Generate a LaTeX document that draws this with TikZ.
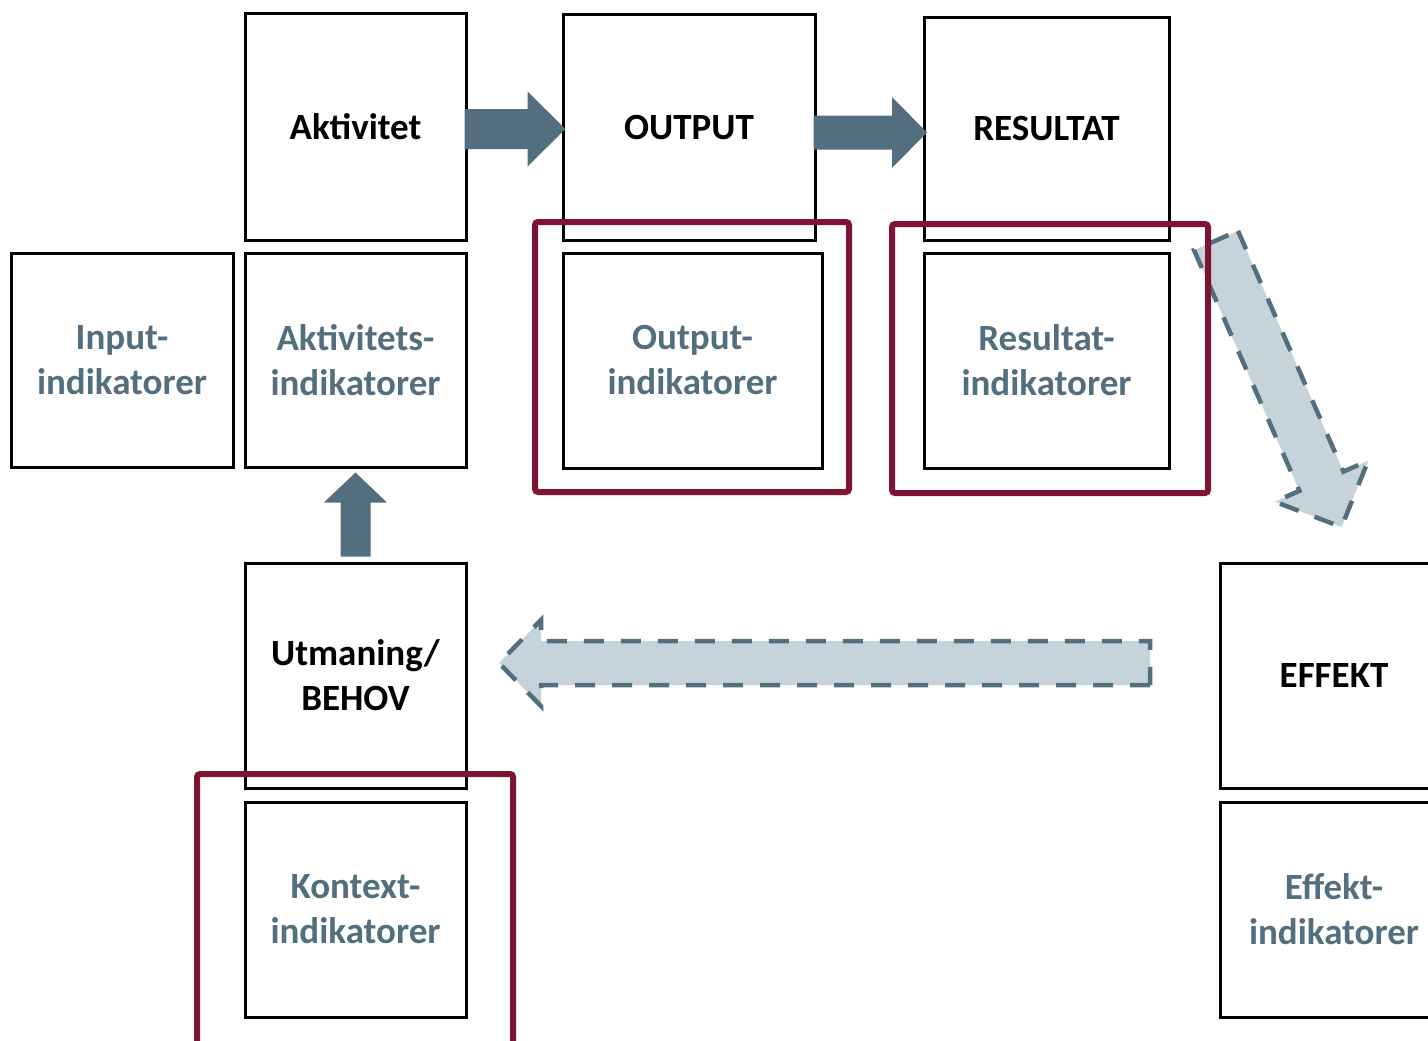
\documentclass[tikz,border=0pt]{standalone}
\usepackage{fontspec}
\setmainfont{Carlito}
\usepackage{xcolor}
\usetikzlibrary{calc,positioning}
\definecolor{slate}{HTML}{536E7E}
\definecolor{paleslate}{HTML}{C6D3DB}
\definecolor{wine}{HTML}{7E1432}
\tikzset{font={\fontsize{37pt}{45pt}\selectfont\bfseries}}

% block arrow: [style]{from}{to}{shaft half width}{head half width}{head length}
\newcommand\blockarrow[6][]{%
  \coordinate (ba-h) at ($(#3)!#6!(#2)$);
  \draw[#1] ($(#2)!#4!90:(#3)$) -- ($(ba-h)!#4!90:(#3)$) -- ($(ba-h)!#5!90:(#3)$)
    -- (#3) -- ($(ba-h)!#5!-90:(#3)$) -- ($(ba-h)!#4!-90:(#3)$)
    -- ($(#2)!#4!-90:(#3)$) -- cycle;}

\begin{document}
\begin{tikzpicture}[x=1pt,y=-1pt,
    box/.style={draw,line width=3pt,align=center,inner sep=0pt},
    stage/.style={box,text=black},
    indic/.style={box,text=slate},
    solidarrow/.style={fill=slate,draw=none},
    dasharrow/.style={fill=paleslate,draw=slate,line width=4.5pt,dash pattern=on 20pt off 17pt},
    wineframe/.style={draw=wine,line width=6pt,rounded corners=3pt}]
  \useasboundingbox (0,0) rectangle (1428,1041);

  % top row
  \node[stage,minimum width=221pt,minimum height=226pt] (akt) at (355.5,127) {Aktivitet};
  \node[stage,minimum width=252pt,minimum height=225pt] (out) at (689,127.5) {OUTPUT};
  \node[stage,minimum width=245pt,minimum height=222pt] (res) at (1046.5,129) {RESULTAT};

  % indicators
  \node[indic,minimum width=221pt,minimum height=214pt] (aktind) at (355.5,360) {Aktivitets-\\indikatorer};
  \node[indic,minimum width=222pt,minimum height=214pt] (inp) at (122,360) {Input-\\indikatorer};
  \node[indic,minimum width=259pt,minimum height=215pt] (outind) at (692.5,360.5) {Output-\\indikatorer};
  \node[indic,minimum width=245pt,minimum height=215pt] (resind) at (1046.5,360.5) {Resultat-\\indikatorer};

  % lower part
  \node[stage,minimum width=221pt,minimum height=225pt] (utm) at (355.5,675.5) {Utmaning/\\BEHOV};
  \node[indic,minimum width=221pt,minimum height=215pt,below=11pt of utm] (konind) {Kontext-\\indikatorer};
  \node[stage,minimum width=228pt,minimum height=225pt] (eff) at (1334,675.5) {EFFEKT};
  \node[indic,minimum width=228pt,minimum height=215pt,below=11pt of eff] (effind) {Effekt-\\indikatorer};

  % arrows
  \coordinate (a1s) at ([xshift=-3pt,yshift=-2pt]akt.east);
  \coordinate (a1t) at ([xshift=4pt,yshift=-1.5pt]out.west);
  \blockarrow[solidarrow]{a1s}{a1t}{20pt}{37.5pt}{38pt}
  \coordinate (a2s) at ([xshift=-3pt,yshift=-5pt]out.east);
  \coordinate (a2t) at ([xshift=4.5pt,yshift=-3.5pt]res.west);
  \blockarrow[solidarrow]{a2s}{a2t}{17pt}{35.5pt}{35pt}
  \coordinate (a3s) at ([yshift=5pt]utm.north);
  \coordinate (a3t) at ([yshift=-4pt]aktind.south);
  \blockarrow[solidarrow]{a3s}{a3t}{15pt}{31.5pt}{30pt}
  \coordinate (d1s) at (1216,240.5);
  \coordinate (d1t) at (1341.5,527);
  \blockarrow[dasharrow]{d1s}{d1t}{24pt}{51pt}{50pt}
  \coordinate (d2s) at (1150,663);
  \coordinate (d2t) at (499,663);
  \blockarrow[dasharrow]{d2s}{d2t}{22pt}{43pt}{42pt}

  % frames
  \draw[wineframe] (535,222) rectangle (849,492);
  \draw[wineframe] (892,224) rectangle (1208,493);
  \draw[wineframe] (197,774) rectangle (513,1045);
\end{tikzpicture}
\end{document}
